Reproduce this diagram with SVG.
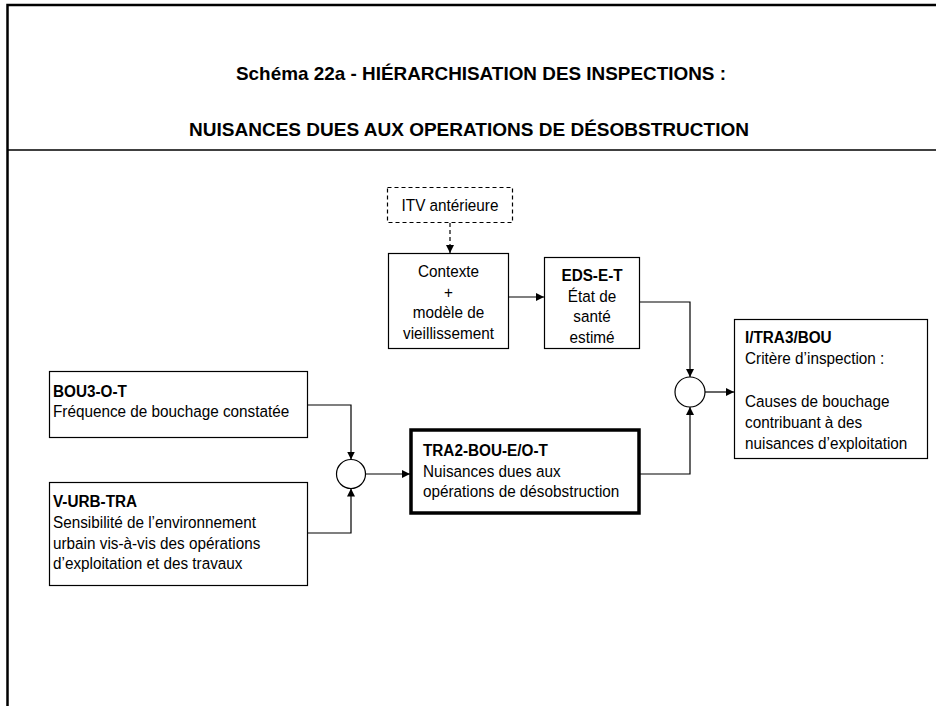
<svg xmlns="http://www.w3.org/2000/svg" width="936" height="706" viewBox="0 0 936 706">
<style>
  text { font-family: "Liberation Sans", Arial, sans-serif; font-size: 17px; fill: #000; }
  .title { font-weight: bold; font-size: 19px; text-anchor: middle; }
  .b { font-weight: bold; }
  .c { text-anchor: middle; }
  .box { fill: #fff; stroke: #000; stroke-width: 1.2; }
  .thick { fill: #fff; stroke: #000; stroke-width: 3.5; }
  .dash { fill: #fff; stroke: #000; stroke-width: 1.2; stroke-dasharray: 4 3; }
  .op { fill: #fff; stroke: #000; stroke-width: 1.2; }
  .conn path { fill: none; stroke: #000; stroke-width: 1.2; }
</style>
<defs>
  <marker id="ah" viewBox="0 0 8 8" refX="8" refY="4" markerWidth="8" markerHeight="8" markerUnits="userSpaceOnUse" orient="auto">
    <path d="M0,0 L8,4 L0,8 z" fill="#000"/>
  </marker>
</defs>
<rect width="936" height="706" fill="#fff"/>
<g id="frame">
  <path d="M7.5,706 V5 H936" fill="none" stroke="#000" stroke-width="2.5"/>
  <path d="M7,150 H936" fill="none" stroke="#000" stroke-width="1.5"/>
  <text class="title" x="481" y="80" textLength="490" lengthAdjust="spacingAndGlyphs">Schéma 22a - HIÉRARCHISATION DES INSPECTIONS :</text>
  <text class="title" x="469" y="136" textLength="560" lengthAdjust="spacingAndGlyphs">NUISANCES DUES AUX OPERATIONS DE DÉSOBSTRUCTION</text>
</g>
<g class="conn" id="connectors">
  <path d="M450,223 V253" stroke-dasharray="4 3" marker-end="url(#ah)"/>
  <path d="M508,297 H544" marker-end="url(#ah)"/>
  <path d="M639,302 H690 V377" marker-end="url(#ah)"/>
  <path d="M639,474 H690 V407" marker-end="url(#ah)"/>
  <path d="M705,392 H734" marker-end="url(#ah)"/>
  <path d="M307,405 H351 V459.5" marker-end="url(#ah)"/>
  <path d="M307,533 H351 V488.5" marker-end="url(#ah)"/>
  <path d="M365.5,474 H410" marker-end="url(#ah)"/>
</g>
<g id="itv">
  <rect class="dash" x="387.5" y="187.5" width="125" height="35"/>
  <text class="c" transform="translate(450 211) scale(0.9 1)">ITV antérieure</text>
</g>
<g id="contexte">
  <rect class="box" x="388.5" y="253.5" width="120" height="95"/>
  <text class="c" transform="translate(448.5 277) scale(0.9 1)">Contexte</text>
  <text class="c" transform="translate(448.5 298) scale(0.9 1)">+</text>
  <text class="c" transform="translate(448.5 318) scale(0.9 1)">modèle de</text>
  <text class="c" transform="translate(448.5 339) scale(0.9 1)">vieillissement</text>
</g>
<g id="eds">
  <rect class="box" x="544.5" y="257.5" width="95" height="91"/>
  <text class="c b" transform="translate(592 281) scale(0.9 1)">EDS-E-T</text>
  <text class="c" transform="translate(592 302) scale(0.9 1)">État de</text>
  <text class="c" transform="translate(592 322) scale(0.9 1)">santé</text>
  <text class="c" transform="translate(592 343) scale(0.9 1)">estimé</text>
</g>
<g id="bou3">
  <rect class="box" x="49.5" y="371.5" width="258" height="66"/>
  <text class="b" transform="translate(53 397) scale(0.9 1)">BOU3-O-T</text>
  <text transform="translate(53 417) scale(0.9 1)">Fréquence de bouchage constatée</text>
</g>
<g id="vurb">
  <rect class="box" x="49.5" y="482.5" width="258" height="103"/>
  <text class="b" transform="translate(53 507) scale(0.9 1)">V-URB-TRA</text>
  <text transform="translate(53 528) scale(0.9 1)">Sensibilité de l’environnement</text>
  <text transform="translate(53 549) scale(0.9 1)">urbain vis-à-vis des opérations</text>
  <text transform="translate(53 569) scale(0.9 1)">d’exploitation et des travaux</text>
</g>
<g id="op1">
  <circle class="op" cx="351" cy="474" r="14.5"/>
</g>
<g id="tra2">
  <rect class="thick" x="411" y="430" width="228" height="83"/>
  <text class="b" transform="translate(423 456) scale(0.9 1)">TRA2-BOU-E/O-T</text>
  <text transform="translate(423 477) scale(0.9 1)">Nuisances dues aux</text>
  <text transform="translate(423 497) scale(0.9 1)">opérations de désobstruction</text>
</g>
<g id="op2">
  <circle class="op" cx="690" cy="392" r="15"/>
</g>
<g id="itra3">
  <rect class="box" x="734.5" y="319.5" width="193" height="139"/>
  <text class="b" transform="translate(745 343) scale(0.9 1)">I/TRA3/BOU</text>
  <text transform="translate(745 364) scale(0.9 1)">Critère d’inspection :</text>
  <text transform="translate(745 407) scale(0.9 1)">Causes de bouchage</text>
  <text transform="translate(745 428) scale(0.9 1)">contribuant à des</text>
  <text transform="translate(745 449) scale(0.9 1)">nuisances d’exploitation</text>
</g>
</svg>
